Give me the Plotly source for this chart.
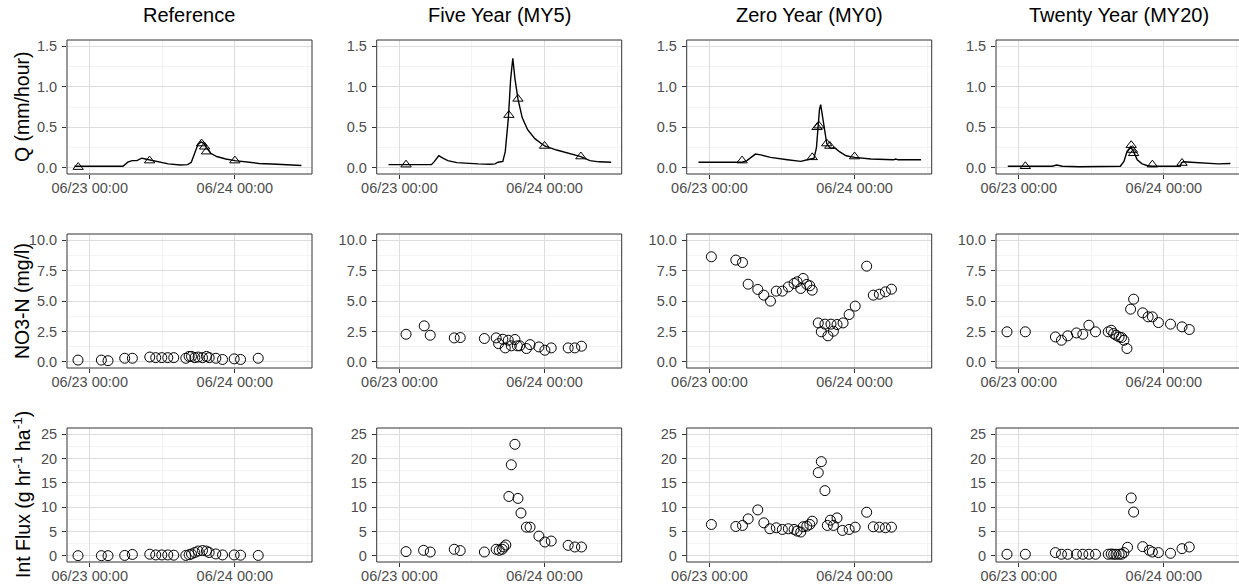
import plotly.graph_objects as go

# ---------------- data (hours relative to 06/23 00:00) ----------------
x_tick_vals = [0, 24]
x_tick_text = ["06/23 00:00", "06/24 00:00"]
x_minor_vals = [-12, 12, 36]

panel_titles = ["Reference", "Five Year (MY5)", "Zero Year (MY0)", "Twenty Year (MY20)"]
row_titles = ["Q (mm/hour)", "NO3-N (mg/l)", "Int Flux (g hr<sup>-1</sup> ha<sup>-1</sup>)"]

q_ticks = [0, 0.5, 1.0, 1.5]
q_tick_text = ["0.0", "0.5", "1.0", "1.5"]
no3_ticks = [0, 2.5, 5.0, 7.5, 10.0]
no3_tick_text = ["0.0", "2.5", "5.0", "7.5", "10.0"]
flux_ticks = [0, 5, 10, 15, 20, 25]
flux_tick_text = ["0", "5", "10", "15", "20", "25"]

# Reference
ref_q_t = [-2.5, 0, 3, 5.5, 6.3, 7.0, 7.8, 8.6, 9.2, 9.9, 11, 13, 15, 16.2, 16.8, 17.3, 17.9, 18.4, 18.9,
           19.4, 20, 21, 22.5, 24, 26, 28, 31, 34, 35]
ref_q = [0.02, 0.02, 0.02, 0.02, 0.07, 0.09, 0.09, 0.12, 0.11, 0.10, 0.08, 0.05, 0.035, 0.04, 0.07, 0.18,
         0.29, 0.32, 0.30, 0.24, 0.18, 0.14, 0.11, 0.09, 0.07, 0.055, 0.045, 0.035, 0.03]
ref_tri_t = [-1.9, 9.9, 18.5, 19.0, 19.3, 24.0]
ref_tri = [0.01, 0.09, 0.30, 0.26, 0.20, 0.09]
ref_no3_t = [-1.93, 1.93, 3.03, 5.79, 7.06, 9.93, 10.92, 11.92, 12.91, 13.9, 15.89, 16.44, 16.83, 17.38,
             17.93, 18.65, 19.3, 19.75, 20.85, 21.96, 23.89, 24.94, 27.86]
ref_no3 = [0.15, 0.15, 0.1, 0.3, 0.3, 0.4, 0.35, 0.35, 0.35, 0.35, 0.3, 0.45, 0.45, 0.35, 0.4, 0.35, 0.45,
           0.35, 0.3, 0.2, 0.25, 0.2, 0.3]
ref_flux_t = ref_no3_t
ref_flux = [0.05, 0.05, 0.05, 0.1, 0.3, 0.35, 0.2, 0.2, 0.2, 0.15, 0.1, 0.25, 0.4, 0.7, 1.0, 1.1, 1.0, 0.7,
            0.4, 0.2, 0.2, 0.15, 0.1]

# Five Year (MY5)
my5_q_t = [-1.8, 0, 3, 5.3, 5.8, 6.5, 7.2, 8, 9.5, 11, 13, 15, 15.8, 16.3, 17.1, 17.5, 18.0, 18.4, 18.75,
           19.1, 19.6, 20.3, 21.2, 22.4, 24, 26, 28, 30, 31.5, 33, 35]
my5_q = [0.04, 0.04, 0.04, 0.04, 0.08, 0.15, 0.12, 0.09, 0.065, 0.055, 0.05, 0.045, 0.05, 0.07, 0.08, 0.2,
         0.6, 1.1, 1.35, 1.1, 0.85, 0.62, 0.47, 0.36, 0.27, 0.22, 0.18, 0.14, 0.09, 0.075, 0.07]
my5_tri_t = [1.1, 18.1, 19.6, 24.0, 30.0]
my5_tri = [0.04, 0.65, 0.85, 0.27, 0.14]
my5_no3_t = [1.1, 4.1, 5.1, 9.07, 10.06, 14.05, 16.0, 16.4, 17.1, 17.5, 18.0, 18.5, 19.1, 19.5, 19.9, 21.0,
             21.6, 23.06, 24.06, 25.1, 27.9, 29.0, 30.1]
my5_no3 = [2.27, 2.96, 2.19, 1.97, 2.0, 1.92, 1.97, 1.5, 1.86, 1.15, 1.78, 1.32, 1.84, 1.32, 1.32, 1.1,
           1.42, 1.23, 0.96, 1.15, 1.15, 1.15, 1.29]
my5_flux_t = [1.1, 4.0, 5.1, 9.07, 10.06, 14.05, 16.0, 16.5, 17.0, 17.25, 17.6, 18.1, 18.5, 19.1, 19.6, 20.1,
              21.0, 21.6, 23.06, 24.06, 25.1, 27.9, 29.0, 30.1]
my5_flux = [0.88, 1.15, 0.8, 1.36, 1.09, 0.8, 1.36, 1.15, 1.36, 1.83, 2.24, 12.2, 18.7, 22.9, 11.8, 8.8,
            5.9, 5.9, 4.07, 2.85, 3.05, 2.17, 1.83, 1.83]

# Zero Year (MY0)
my0_q_t = [-1.8, 0, 3, 5.4, 6.2, 7.0, 7.6, 8.5, 10.1, 12.9, 15.1, 16.2, 17.3, 17.7, 17.9, 18.2, 18.4, 18.7,
           19.0, 19.4, 19.8, 20.1, 20.7, 21.5, 22.6, 24, 26.7, 30.4, 30.8, 31.2, 32, 35]
my0_q = [0.07, 0.07, 0.07, 0.07, 0.09, 0.14, 0.17, 0.16, 0.13, 0.10, 0.08, 0.10, 0.12, 0.25, 0.5, 0.72,
         0.78, 0.62, 0.45, 0.3, 0.26, 0.24, 0.25, 0.2, 0.15, 0.13, 0.11, 0.10, 0.11, 0.10, 0.10, 0.10]
my0_tri_t = [5.4, 17.0, 17.8, 18.1, 19.4, 19.9, 24.0]
my0_tri = [0.09, 0.13, 0.5, 0.52, 0.3, 0.27, 0.14]
my0_no3_t = [0.33, 4.37, 5.47, 6.41, 8.0, 9.0, 10.1, 11.06, 12.06, 13.05, 14.0, 14.5, 15.1, 15.5, 16.1, 16.6,
             17.0, 18.0, 18.5, 19.1, 19.6, 20.1, 20.5, 21.1, 22.1, 23.1, 24.1, 26.0, 27.1, 28.1, 29.1, 30.1]
my0_no3 = [8.63, 8.36, 8.16, 6.38, 5.95, 5.48, 4.99, 5.81, 5.81, 6.16, 6.44, 6.58, 6.03, 6.85, 6.36, 6.25,
           5.89, 3.2, 2.47, 3.1, 2.14, 3.1, 2.52, 3.07, 3.2, 3.89, 4.58, 7.86, 5.48, 5.56, 5.75, 5.97]
my0_flux_t = [0.33, 4.37, 5.47, 6.41, 8.0, 9.0, 10.0, 11.06, 12.06, 13.05, 14.0, 14.5, 15.1, 15.5, 16.1,
              16.6, 17.0, 18.0, 18.5, 19.1, 19.5, 20.0, 20.5, 21.1, 22.0, 23.1, 24.1, 26.0, 27.1, 28.1,
              29.1, 30.1]
my0_flux = [6.45, 6.04, 6.25, 7.6, 9.44, 6.79, 5.57, 5.77, 5.43, 5.57, 5.43, 5.1, 4.9, 5.98, 6.11, 6.45,
            7.13, 17.1, 19.35, 13.4, 6.25, 7.33, 6.25, 7.8, 5.23, 5.43, 5.9, 8.96, 5.98, 5.9, 5.77, 5.9]

# Twenty Year (MY20)
my20_q_t = [-1.8, 0, 3, 5.5, 6.3, 7.2, 10, 14, 16.8, 17.4, 17.9, 18.5, 19.0, 19.6, 20.4, 21.2, 22, 24,
            26.7, 26.9, 27.2, 28.5, 30.4, 31.5, 33, 35]
my20_q = [0.02, 0.02, 0.02, 0.02, 0.035, 0.02, 0.015, 0.015, 0.02, 0.08, 0.2, 0.26, 0.2, 0.1, 0.05, 0.03,
          0.02, 0.02, 0.02, 0.06, 0.075, 0.07, 0.06, 0.05, 0.05, 0.055]
my20_tri_t = [1.1, 18.6, 18.8, 19.0, 22.1, 27.0]
my20_tri = [0.02, 0.28, 0.22, 0.18, 0.04, 0.06]
my20_no3_t = [-1.93, 1.1, 6.07, 7.07, 8.1, 9.55, 10.6, 11.6, 12.7, 14.8, 15.3, 15.7, 16.1, 16.6, 17.0, 17.4,
              17.9, 18.5, 19.0, 20.5, 21.4, 22.1, 23.1, 25.1, 27.0, 28.2]
my20_no3 = [2.47, 2.47, 2.05, 1.78, 2.14, 2.38, 2.27, 3.01, 2.47, 2.47, 2.6, 2.33, 2.19, 2.05, 2.0, 1.78,
            1.1, 4.33, 5.15, 4.03, 3.7, 3.7, 3.23, 3.1, 2.88, 2.66]
my20_flux_t = [-1.93, 1.1, 6.07, 7.07, 8.1, 9.55, 10.6, 11.6, 12.7, 14.8, 15.3, 15.7, 16.1, 16.6, 17.0, 17.4,
               18.0, 18.6, 19.0, 20.5, 21.6, 22.1, 23.1, 25.1, 27.0, 28.2]
my20_flux = [0.34, 0.34, 0.68, 0.34, 0.34, 0.34, 0.34, 0.34, 0.34, 0.34, 0.4, 0.34, 0.34, 0.34, 0.34, 0.68,
             1.77, 11.9, 9.0, 1.9, 1.15, 0.8, 0.68, 0.54, 1.49, 1.83]

# ---------------- layout geometry ----------------
W, H = 1239, 586
col_left = [67, 376.7, 686.7, 996]
panel_w = 245
row_top = [40, 234, 428]
row_bot = [174, 368, 562]
x_range = [-3.75, 36.75]
y_ranges = [[-0.075, 1.575], [-0.5, 10.5], [-1.25, 26.25]]
y_tickvals = [q_ticks, no3_ticks, flux_ticks]
y_ticktext = [q_tick_text, no3_tick_text, flux_tick_text]
y_minor = [[0.25, 0.75, 1.25], [1.25, 3.75, 6.25, 8.75], [2.5, 7.5, 12.5, 17.5, 22.5]]

series = [
    (ref_q_t, ref_q, ref_tri_t, ref_tri, ref_no3_t, ref_no3, ref_flux_t, ref_flux),
    (my5_q_t, my5_q, my5_tri_t, my5_tri, my5_no3_t, my5_no3, my5_flux_t, my5_flux),
    (my0_q_t, my0_q, my0_tri_t, my0_tri, my0_no3_t, my0_no3, my0_flux_t, my0_flux),
    (my20_q_t, my20_q, my20_tri_t, my20_tri, my20_no3_t, my20_no3, my20_flux_t, my20_flux),
]

FONT = "Liberation Sans, Arial, sans-serif"
TICK_COLOR = "#4D4D4D"
GRID = "#DDDDDD"
GRID_MINOR = "#F4F4F4"
BORDER = "#333333"

fig = go.Figure()
shapes = []
layout = {}

circle = dict(symbol="circle-open", size=10, color="black", line=dict(width=1, color="black"))
tri = dict(symbol="triangle-up-open", size=9, color="black", line=dict(width=1, color="black"))

for c in range(4):
    qt, qv, tt, tv, nt, nv, ft, fv = series[c]
    for r in range(3):
        k = r * 4 + c + 1
        xn = "x" if k == 1 else f"x{k}"
        yn = "y" if k == 1 else f"y{k}"
        xkey = "xaxis" if k == 1 else f"xaxis{k}"
        ykey = "yaxis" if k == 1 else f"yaxis{k}"
        left = col_left[c]
        right = min(left + panel_w, W)
        xr = [x_range[0], x_range[0] + (right - left) / panel_w * (x_range[1] - x_range[0])]
        layout[xkey] = dict(
            domain=[left / W, right / W], range=xr, anchor=yn, automargin=False,
            tickmode="array", tickvals=x_tick_vals, ticktext=x_tick_text,
            ticks="outside", ticklen=4, tickwidth=1, tickcolor=BORDER,
            showgrid=True, gridcolor=GRID, gridwidth=1.1, zeroline=False, showline=False,
            tickfont=dict(family=FONT, size=14.5, color=TICK_COLOR),
            ticklabelstandoff=-3,
            minor=dict(tickmode="array", tickvals=x_minor_vals, showgrid=True,
                       gridcolor=GRID_MINOR, gridwidth=0.8, ticks=""),
            fixedrange=True,
        )
        layout[ykey] = dict(
            domain=[1 - row_bot[r] / H, 1 - row_top[r] / H], range=y_ranges[r], anchor=xn,
            automargin=False,
            tickmode="array", tickvals=y_tickvals[r], ticktext=y_ticktext[r],
            ticks="outside", ticklen=4, tickwidth=1, tickcolor=BORDER,
            showgrid=True, gridcolor=GRID, gridwidth=1.1, zeroline=False, showline=False,
            tickfont=dict(family=FONT, size=14.5, color=TICK_COLOR),
            ticklabelstandoff=2,
            minor=dict(tickmode="array", tickvals=y_minor[r], showgrid=True,
                       gridcolor=GRID_MINOR, gridwidth=0.8, ticks=""),
            fixedrange=True,
        )
        if r == 0:
            fig.add_trace(go.Scatter(x=qt, y=qv, mode="lines", line=dict(color="black", width=1.4),
                                     xaxis=xn, yaxis=yn, showlegend=False, hoverinfo="skip"))
            fig.add_trace(go.Scatter(x=tt, y=tv, mode="markers", marker=tri,
                                     xaxis=xn, yaxis=yn, showlegend=False))
        elif r == 1:
            fig.add_trace(go.Scatter(x=nt, y=nv, mode="markers", marker=circle,
                                     xaxis=xn, yaxis=yn, showlegend=False, cliponaxis=False))
        else:
            fig.add_trace(go.Scatter(x=ft, y=fv, mode="markers", marker=circle,
                                     xaxis=xn, yaxis=yn, showlegend=False, cliponaxis=False))
        shapes.append(dict(type="rect", xref=f"{xn} domain", yref=f"{yn} domain",
                           x0=0, x1=(1.02 if c == 3 else 1), y0=0, y1=1,
                           line=dict(color=BORDER, width=1), fillcolor="rgba(0,0,0,0)", layer="above"))

annotations = []
for c in range(4):
    left = col_left[c]
    annotations.append(dict(text=panel_titles[c], x=(left + panel_w / 2) / W, y=1 - 15 / H,
                            xref="paper", yref="paper", xanchor="center", yanchor="middle",
                            showarrow=False, font=dict(family=FONT, size=20, color="black")))
for r in range(3):
    annotations.append(dict(text=row_titles[r], x=22 / W, y=1 - (row_top[r] + row_bot[r]) / 2 / H,
                            xref="paper", yref="paper", xanchor="center", yanchor="middle",
                            textangle=-90, showarrow=False,
                            font=dict(family=FONT, size=19.5, color="black")))

fig.update_layout(
    width=W, height=H, margin=dict(l=0, r=0, t=0, b=0, pad=0, autoexpand=False),
    paper_bgcolor="white", plot_bgcolor="white",
    shapes=shapes, annotations=annotations, **layout,
)

fig.write_html(
    "out.html",
    config={"displayModeBar": False},
    post_script="document.body.style.margin='0px';document.body.style.overflow='hidden';",
)
